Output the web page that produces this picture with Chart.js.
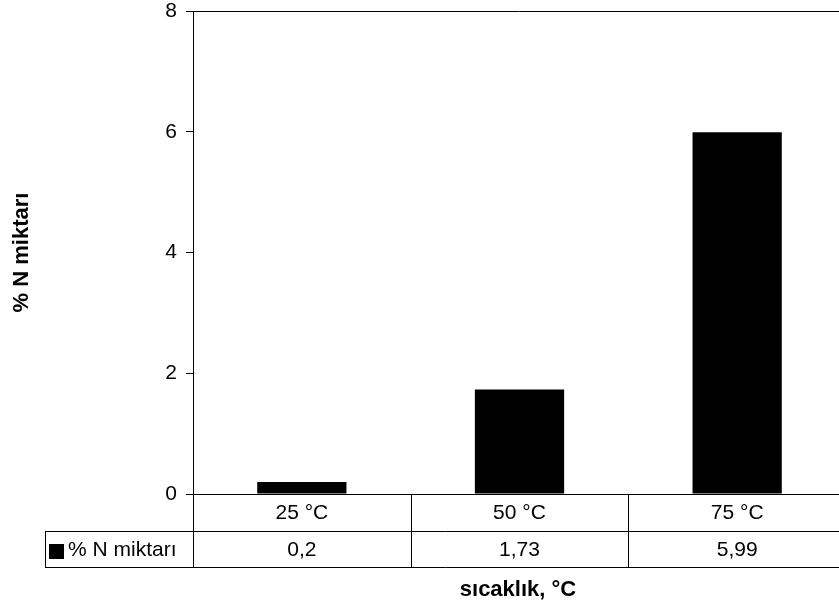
<!DOCTYPE html>
<html>
<head>
<meta charset="utf-8">
<script src="https://cdn.jsdelivr.net/npm/chart.js@4"></script>
<style>
  html, body { margin: 0; padding: 0; background: #fff; overflow: hidden; }
  #wrap { width: 839px; height: 608px; overflow: hidden; }
</style>
</head>
<body>
<div id="wrap"><canvas id="chart" width="846" height="608"></canvas></div>
<script>
const categories = ['25 °C', '50 °C', '75 °C'];
const seriesName = '% N miktarı';
const nValues = [0.2, 1.73, 5.99];
const yTicks = [0, 2, 4, 6, 8];
const xTitle = 'sıcaklık, °C';
const yTitle = '% N miktarı';

const FONT = "'Liberation Sans', Arial, sans-serif";
const fmt = v => String(v).replace('.', ',');

// data table under the plot + top border + x title
const tablePlugin = {
    id: 'dataTable',
    afterDraw(chart) {
        const { ctx, chartArea: a, scales: { x } } = chart;
        const row1 = a.bottom, row2 = 531, row3 = 567, left = 45;
        const n = categories.length;
        const colW = (a.right - a.left) / n;
        ctx.save();
        ctx.strokeStyle = '#000';
        ctx.lineWidth = 1;
        ctx.beginPath();
        // plot top border
        ctx.moveTo(a.left, a.top + 0.5); ctx.lineTo(a.right, a.top + 0.5);
        // table horizontals
        ctx.moveTo(left, row2 + 0.5); ctx.lineTo(a.right, row2 + 0.5);
        ctx.moveTo(left, row3 + 0.5); ctx.lineTo(a.right, row3 + 0.5);
        // verticals
        ctx.moveTo(left + 0.5, row2); ctx.lineTo(left + 0.5, row3);
        ctx.moveTo(a.left + 0.5, row1); ctx.lineTo(a.left + 0.5, row3);
        for (let i = 1; i < n; i++) {
            const xx = Math.round(a.left + colW * i) + 0.5;
            ctx.moveTo(xx, row1); ctx.lineTo(xx, row3);
        }
        ctx.stroke();

        ctx.fillStyle = '#000';
        ctx.font = '21px ' + FONT;
        ctx.textAlign = 'center';
        ctx.textBaseline = 'middle';
        categories.forEach((c, i) => {
            const cx = x.getPixelForValue(i);
            ctx.fillText(c, cx, (row1 + row2) / 2 + 1);
            ctx.fillText(fmt(nValues[i]), cx, (row2 + row3) / 2 + 1);
        });
        // legend key
        ctx.fillRect(49, 544, 15, 15);
        ctx.textAlign = 'left';
        ctx.fillText(seriesName, 68, (row2 + row3) / 2 + 1);

        // x axis title
        ctx.font = 'bold 22px ' + FONT;
        ctx.textAlign = 'center';
        ctx.fillText(xTitle, 518, 590);
        ctx.restore();
    }
};

new Chart(document.getElementById('chart'), {
    type: 'bar',
    data: {
        labels: categories,
        datasets: [{
            label: seriesName,
            data: nValues,
            backgroundColor: '#000',
            borderWidth: 0,
            categoryPercentage: 1,
            barPercentage: 0.41
        }]
    },
    options: {
        responsive: false,
        animation: false,
        layout: { padding: { top: 11, left: 0, right: 0, bottom: 114 } },
        plugins: { legend: { display: false }, tooltip: { enabled: false } },
        scales: {
            x: {
                afterFit: s => { s.height = 0; s.paddingLeft = 0; s.paddingRight = 0; },
                ticks: { display: false },
                grid: { display: false, drawTicks: false },
                border: { display: true, color: '#000', width: 1 }
            },
            y: {
                min: 0,
                max: 8,
                afterFit: s => { s.width = 193; s.paddingTop = 0; s.paddingBottom = 0; },
                afterBuildTicks: s => { s.ticks = yTicks.map(v => ({ value: v })); },
                ticks: {
                    color: '#000',
                    padding: 9,
                    font: { family: FONT, size: 21 }
                },
                grid: { drawOnChartArea: false, drawTicks: true, tickLength: 7, color: '#000' },
                border: { display: true, color: '#000', width: 1 },
                title: {
                    display: true,
                    text: yTitle,
                    color: '#000',
                    font: { family: FONT, size: 22, weight: 'bold' },
                    padding: { top: 9, bottom: 0 }
                }
            }
        }
    },
    plugins: [tablePlugin]
});
</script>
</body>
</html>
